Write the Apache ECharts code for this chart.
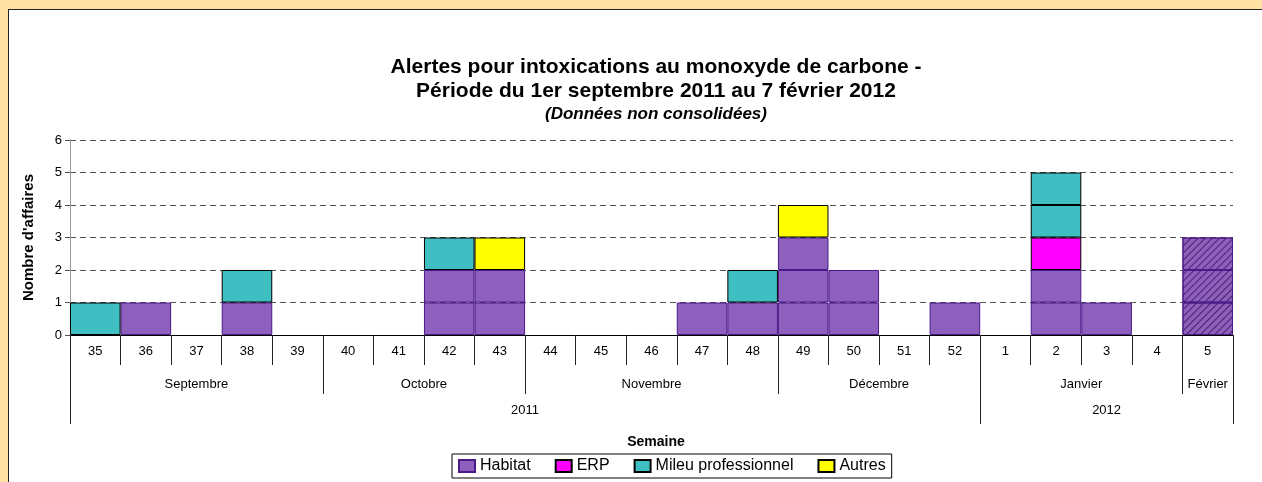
<!DOCTYPE html>
<html>
<head>
<meta charset="utf-8">
<script src="https://cdn.jsdelivr.net/npm/echarts@6/dist/echarts.min.js"></script>
<style>
  body { margin: 0; background: #FFE2A4; }
  #cadre { position: absolute; left: 8px; top: 9px; width: 1300px; height: 500px; background: #fff; border: 1px solid #222; }
  #main { position: absolute; left: 0; top: 0; width: 1262px; height: 482px; }
</style>
</head>
<body>
<div id="cadre"></div>
<div id="main"></div>
<script>
// semaines (axe principal)
const semaines = ['35','36','37','38','39','40','41','42','43','44','45','46','47','48','49','50','51','52','1','2','3','4','5'];
// nombre d'affaires par type
const habitat = [0,1,0,1,0,0,0,2,2,0,0,0,1,1,3,2,0,1,0,2,1,0,3];
const erp     = [0,0,0,0,0,0,0,0,0,0,0,0,0,0,0,0,0,0,0,1,0,0,0];
const milieu  = [1,0,0,1,0,0,0,1,0,0,0,0,0,1,0,0,0,0,0,2,0,0,0];
const autres  = [0,0,0,0,0,0,0,0,1,0,0,0,0,0,1,0,0,0,0,0,0,0,0];
// semaine en cours (hachurée)
const semainePartielle = 22;
// regroupements mois / années (bornes en index de semaine)
const mois = ['Septembre','Octobre','Novembre','Décembre','Janvier','Février'];
const bornesMois = [0,5,9,14,18,22,23];
const annees = ['2011','2012'];
const bornesAnnees = [0,18,23];
const yTicks = [0,1,2,3,4,5,6];

const police = 'Liberation Sans, Arial, sans-serif';

const types = [
  { name: 'Habitat', data: habitat, color: '#8F5FBD', border: '#4A1A8A' },
  { name: 'ERP', data: erp, color: '#FF00FF', border: '#000' },
  { name: 'Mileu professionnel', data: milieu, color: '#40BFC2', border: '#000' },
  { name: 'Autres', data: autres, color: '#FFFF00', border: '#000' }
];

// une série par "étage" pour dessiner chaque affaire comme un bloc
let series = [];
types.forEach(t => {
  const maxi = Math.max(...t.data);
  for (let k = 1; k <= maxi; k++) {
    series.push({
      type: 'bar',
      name: t.name,
      stack: 'total',
      barCategoryGap: '0%',
      itemStyle: { color: t.color, borderColor: t.border, borderWidth: 1 },
      data: t.data.map((v, i) => {
        if (v < k) return '-';
        if (i === semainePartielle) {
          return {
            value: 1,
            itemStyle: {
              decal: {
                symbol: 'rect', symbolSize: 1,
                dashArrayX: [1, 0], dashArrayY: [1, 4],
                rotation: -Math.PI / 4,
                color: 'rgba(40,10,70,0.7)'
              }
            }
          };
        }
        return 1;
      })
    });
  }
});

// centres des groupes pour les libellés
const centres = b => b.slice(0, -1).map((v, i) => (v + b[i + 1]) / 2);
const centresMois = centres(bornesMois);
const centresAnnees = centres(bornesAnnees);

const chart = echarts.init(document.getElementById('main'));
chart.setOption({
  animation: false,
  textStyle: { fontFamily: police },
  title: [
    {
      text: 'Alertes pour intoxications au monoxyde de carbone -\nPériode du 1er septembre 2011 au 7 février 2012',
      subtext: '(Données non consolidées)',
      left: 651, top: 50, textAlign: 'center', itemGap: 1,
      textStyle: { fontFamily: police, fontSize: 21, fontWeight: 'bold', color: '#000', lineHeight: 24 },
      subtextStyle: { fontFamily: police, fontSize: 17, fontWeight: 'bold', fontStyle: 'italic', color: '#000', lineHeight: 20 }
    },
    {
      text: 'Semaine',
      left: 651, top: 430, textAlign: 'center',
      textStyle: { fontFamily: police, fontSize: 14, fontWeight: 'bold', color: '#000' }
    }
  ],
  legend: {
    data: types.map(t => t.name),
    left: 452, top: 454,
    borderColor: '#000', borderWidth: 1,
    padding: [4, 6],
    itemWidth: 16, itemHeight: 12, itemGap: 24,
    icon: 'rect',
    textStyle: { fontFamily: police, fontSize: 16, color: '#000' }
  },
  grid: { left: 70, right: 29, top: 140, bottom: 147 },
  xAxis: [
    {
      type: 'category',
      data: semaines,
      axisLine: { lineStyle: { color: '#000', width: 1 } },
      axisTick: { show: true, interval: 0, length: 30, lineStyle: { color: '#222' } },
      axisLabel: { interval: 0, margin: 10, fontSize: 13, color: '#000' }
    },
    {
      type: 'value', position: 'bottom', min: 0, max: 23,
      axisLine: { show: false },
      splitLine: { show: false },
      axisTick: { show: true, customValues: bornesMois, length: 59, lineStyle: { color: '#222' } },
      axisLabel: {
        customValues: centresMois, margin: 43, fontSize: 13, color: '#000',
        formatter: v => mois[centresMois.indexOf(v)]
      }
    },
    {
      type: 'value', position: 'bottom', min: 0, max: 23,
      axisLine: { show: false },
      splitLine: { show: false },
      axisTick: { show: true, customValues: bornesAnnees, length: 89, lineStyle: { color: '#222' } },
      axisLabel: {
        customValues: centresAnnees, margin: 69, fontSize: 13, color: '#000',
        formatter: v => annees[centresAnnees.indexOf(v)]
      }
    }
  ],
  yAxis: [
    {
      type: 'value', min: yTicks[0], max: yTicks[yTicks.length - 1], interval: 1,
      name: "Nombre d'affaires", nameLocation: 'middle', nameGap: 34,
      nameTextStyle: { fontFamily: police, fontSize: 15, fontWeight: 'bold', color: '#000' },
      axisLine: { show: true, lineStyle: { color: '#888' } },
      axisTick: { show: true, length: 5, lineStyle: { color: '#555' } },
      axisLabel: { fontSize: 13, color: '#000', margin: 8 },
      splitLine: { lineStyle: { color: '#555', type: [6, 4] } }
    },
    {
      type: 'value', position: 'right', min: 0, max: 6,
      axisLine: { show: true, lineStyle: { color: '#999' } },
      axisTick: { show: false }, axisLabel: { show: false }, splitLine: { show: false }
    }
  ],
  series: series
});
</script>
</body>
</html>
